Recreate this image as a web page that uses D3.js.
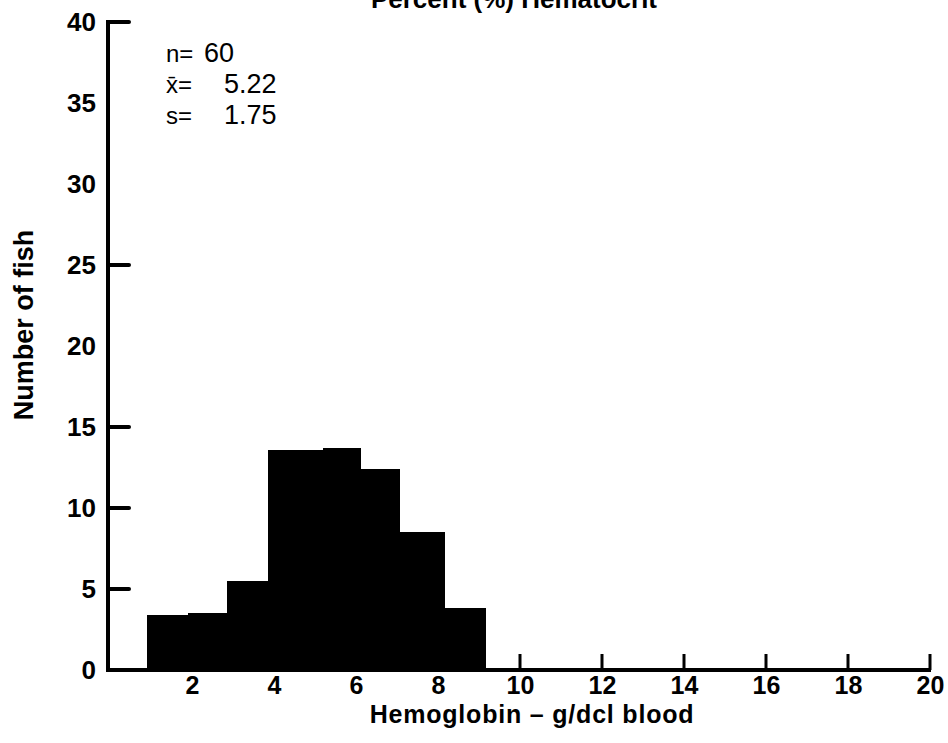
<!DOCTYPE html>
<html>
<head>
<meta charset="utf-8">
<script src="https://cdn.jsdelivr.net/npm/d3@7"></script>
<style>
  body { margin: 0; background: #fff; }
  svg { display: block; font-family: "Liberation Sans", Arial, sans-serif; }
</style>
</head>
<body>
<div id="app"></div>
<script>
// histogram bins (g/dcl) and heights
const binEdges = [0.9, 1.9, 2.85, 3.85, 5.2, 6.1, 7.05, 8.15, 9.15];
const binCounts = [3.4, 3.5, 5.5, 13.6, 13.7, 12.4, 8.5, 3.8];

const yTickLabels = [0, 5, 10, 15, 20, 25, 30, 35, 40];
const yTickMarks = [5, 10, 15, 25, 40];
const xTickLabels = [2, 4, 6, 8, 10, 12, 14, 16, 18, 20];
const xTickMarks = [10, 12, 14, 16, 18, 20];

const stats = [
  { label: "n=", value: "60" },
  { label: "x\u0304=", value: "5.22" },
  { label: "s=", value: "1.75" }
];

const width = 948;
const height = 743;

const x = d3.scaleLinear().domain([0, 20]).range([110, 930]);
const y = d3.scaleLinear().domain([0, 40]).range([670, 22]);

const svg = d3
  .select("#app")
  .append("svg")
  .attr("width", width)
  .attr("height", height);

svg.append("rect").attr("width", width).attr("height", height).attr("fill", "#fff");

// bars
const bins = binCounts.map((c, i) => ({ x0: binEdges[i], x1: binEdges[i + 1], count: c }));

svg
  .append("g")
  .attr("shape-rendering", "crispEdges")
  .selectAll("rect")
  .data(bins)
  .enter()
  .append("rect")
  .attr("x", (d) => x(d.x0))
  .attr("y", (d) => y(d.count))
  .attr("width", (d) => x(d.x1) - x(d.x0) + 1)
  .attr("height", (d) => y(0) - y(d.count))
  .attr("fill", "#000");

// y axis: thick line, only some ticks drawn, all labels
const yAxis = d3
  .axisLeft(y)
  .tickValues(yTickLabels)
  .tickSize(0)
  .tickPadding(12);

const gy = svg
  .append("g")
  .attr("transform", `translate(${x(0) - 2}, 0)`)
  .call(yAxis);
gy.select(".domain").remove();
gy.selectAll("text")
  .attr("font-size", 26)
  .attr("font-weight", "bold")
  .attr("font-family", "Liberation Sans, Arial, sans-serif")
  .attr("fill", "#000");

svg
  .append("line")
  .attr("x1", x(0) - 2)
  .attr("x2", x(0) - 2)
  .attr("y1", y(40) - 2)
  .attr("y2", y(0) + 2)
  .attr("stroke", "#000")
  .attr("stroke-width", 4);

svg
  .append("g")
  .selectAll("line")
  .data(yTickMarks)
  .enter()
  .append("line")
  .attr("x1", x(0) - 2)
  .attr("x2", x(0) + 19)
  .attr("y1", (d) => y(d))
  .attr("y2", (d) => y(d))
  .attr("stroke", "#000")
  .attr("stroke-width", 4)
  .attr("stroke-linecap", "round");

// x axis
const xAxis = d3
  .axisBottom(x)
  .tickValues(xTickLabels)
  .tickSize(0)
  .tickPadding(4);

const gx = svg
  .append("g")
  .attr("transform", `translate(0, ${y(0) + 2})`)
  .call(xAxis);
gx.select(".domain").remove();
gx.selectAll("text")
  .attr("font-size", 25)
  .attr("font-weight", "bold")
  .attr("font-family", "Liberation Sans, Arial, sans-serif")
  .attr("fill", "#000");

svg
  .append("line")
  .attr("x1", x(0) - 4)
  .attr("x2", x(20) + 1)
  .attr("y1", y(0))
  .attr("y2", y(0))
  .attr("stroke", "#000")
  .attr("stroke-width", 4);

svg
  .append("g")
  .selectAll("line")
  .data(xTickMarks)
  .enter()
  .append("line")
  .attr("x1", (d) => x(d))
  .attr("x2", (d) => x(d))
  .attr("y1", y(0))
  .attr("y2", y(0) - 16)
  .attr("stroke", "#000")
  .attr("stroke-width", 3);

// titles
svg
  .append("text")
  .text("Percent (%) Hematocrit")
  .attr("x", 514)
  .attr("y", 8)
  .attr("text-anchor", "middle")
  .attr("font-size", 26)
  .attr("font-weight", "bold");

svg
  .append("text")
  .text("Hemoglobin \u2013 g/dcl blood")
  .attr("x", 532)
  .attr("y", 723)
  .attr("text-anchor", "middle")
  .attr("font-size", 25)
  .attr("letter-spacing", 0.8)
  .attr("font-weight", "bold");

svg
  .append("text")
  .text("Number of fish")
  .attr("transform", `translate(33, 325) rotate(-90)`)
  .attr("text-anchor", "middle")
  .attr("font-size", 27)
  .attr("font-weight", "bold");

// summary statistics
const statLines = svg
  .append("g")
  .selectAll("g")
  .data(stats)
  .enter()
  .append("g")
  .attr("transform", (d, i) => `translate(166, ${62 + i * 31})`);

statLines
  .append("text")
  .text((d) => d.label)
  .attr("font-size", 24);

statLines
  .append("text")
  .text((d) => d.value)
  .attr("x", (d, i) => (i === 0 ? 38 : 58))
  .attr("font-size", 27);
</script>
</body>
</html>
